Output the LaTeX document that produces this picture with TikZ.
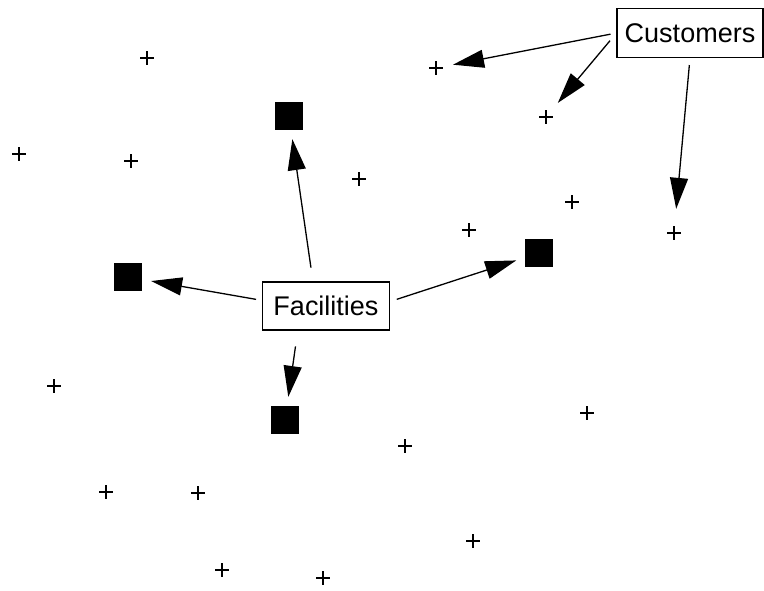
\documentclass[tikz,border=0pt]{standalone}
\usepackage{fontspec}
\setmainfont{Liberation Sans}
\usetikzlibrary{arrows.meta}
\tikzset{
  site/.style={inner sep=0pt,minimum size=14pt,
    path picture={\draw[line width=1.2pt] (path picture bounding box.north) -- (path picture bounding box.south)
      (path picture bounding box.west) -- (path picture bounding box.east);}},
  plant/.style={fill=black,inner sep=0pt,minimum size=28pt},
  label box/.style={draw=black,line width=1.1pt,inner sep=0pt,font=\fontsize{27}{31}\selectfont},
  link/.style={-{Triangle[length=31pt,width=18pt]},line width=1.3pt,shorten >=9pt,shorten <=8pt}
}

\begin{document}
\begin{tikzpicture}[x=1pt,y=-1pt]
\useasboundingbox (0,0) rectangle (764,590);
% customer sites
\node (c1) [site] at (147,58) {};
\node (c2) [site] at (19,154) {};
\node (c3) [site] at (131,161) {};
\node (c4) [site] at (359,179) {};
\node (c5) [site] at (436,68) {};
\node (c6) [site] at (546,117) {};
\node (c7) [site] at (572,202) {};
\node (c8) [site] at (469,230) {};
\node (c9) [site] at (674,233) {};
\node (c10) [site] at (54,386) {};
\node (c11) [site] at (587,413) {};
\node (c12) [site] at (405,446) {};
\node (c13) [site] at (106,492) {};
\node (c14) [site] at (198,493) {};
\node (c15) [site] at (473,541) {};
\node (c16) [site] at (222,570) {};
\node (c17) [site] at (323,578) {};
%
% facilities
\node (f1) [plant] at (289,116) {};
\node (f2) [plant] at (128,277) {};
\node (f3) [plant] at (539,253) {};
\node (f4) [plant] at (285,420) {};
%
\node (fac) [label box,minimum width=127pt,minimum height=48pt] at (326,306) {Facilities};
\node (cus) [label box,minimum width=146pt,minimum height=49pt] at (690,33) {Customers};
%
\path[link,shorten <=14pt] (fac.118) edge (f1);
\path[link,shorten <=6pt] (fac.175) edge (f2);
\path[link,shorten <=7pt] (fac.4) edge (f3);
\path[link,shorten <=16pt] (fac.221) edge (f4);
%
\path[link,shorten >=10pt,shorten <=6pt] (cus.west) edge (c5);
\path[link,shorten >=9pt,shorten <=10pt] (cus.west) edge (c6);
\path[link,shorten >=17pt,shorten <=7pt] (cus.south) edge (c9);
\end{tikzpicture}
\end{document}
